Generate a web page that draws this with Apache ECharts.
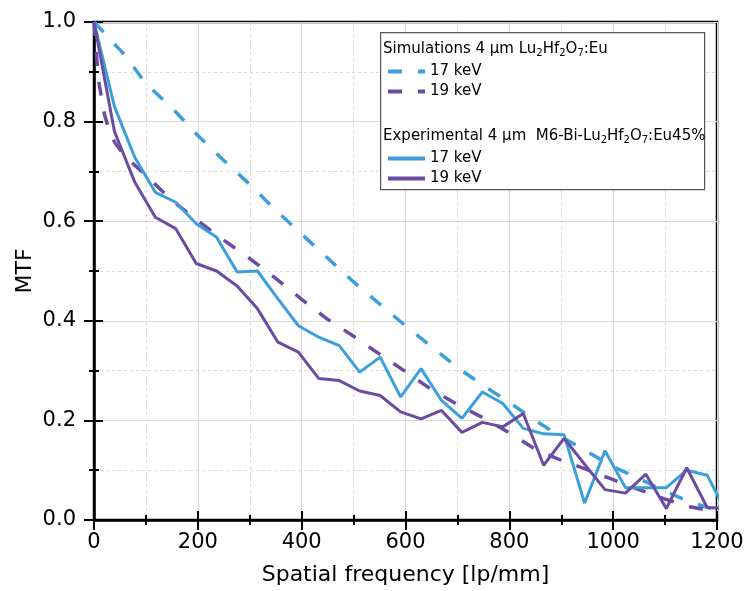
<!DOCTYPE html>
<html>
<head>
<meta charset="utf-8">
<script src="https://cdn.jsdelivr.net/npm/echarts@6/dist/echarts.min.js"></script>
<style>
  html, body { margin: 0; padding: 0; background: #ffffff; }
  #chart { width: 748px; height: 591px; }
</style>
</head>
<body>
<div id="chart"></div>
<script>
// Spatial frequency samples of the measured MTF (lp/mm)
var freqExp = [0, 39.4, 78.7, 118.1, 157.5, 196.9, 236.2, 275.6, 315.0, 354.3, 393.7,
  433.1, 472.4, 511.8, 551.2, 590.6, 629.9, 669.3, 708.7, 748.0, 787.4, 826.8,
  866.1, 905.5, 944.9, 984.3, 1023.6, 1063.0, 1102.4, 1141.7, 1181.1, 1220.5];

// Measured MTF, 4 µm M6-Bi-Lu2Hf2O7:Eu45%
var exp17 = [1.0, 0.83, 0.728, 0.658, 0.638, 0.595, 0.568, 0.498, 0.50, 0.444, 0.39,
  0.367, 0.35, 0.297, 0.327, 0.247, 0.304, 0.24, 0.204, 0.257, 0.234, 0.184,
  0.173, 0.171, 0.034, 0.139, 0.065, 0.065, 0.065, 0.10, 0.09, 0.01];
var exp19 = [1.0, 0.78, 0.678, 0.608, 0.585, 0.515, 0.50, 0.47, 0.424, 0.357, 0.337,
  0.284, 0.28, 0.259, 0.25, 0.217, 0.203, 0.22, 0.176, 0.196, 0.187, 0.214,
  0.11, 0.164, 0.112, 0.061, 0.054, 0.092, 0.023, 0.105, 0.025, 0.023];

// Simulated MTF, 4 µm Lu2Hf2O7:Eu
var freqSim = [0, 5, 10, 20, 30, 40, 60, 100, 150, 200, 250, 300, 350, 400, 450, 500,
  550, 600, 650, 700, 750, 800, 850, 900, 950, 1000, 1050, 1100, 1150, 1200];
var sim17 = [1.0, 0.994, 0.989, 0.978, 0.966, 0.955, 0.933, 0.876, 0.828, 0.772, 0.722,
  0.674, 0.622, 0.574, 0.526, 0.478, 0.434, 0.39, 0.348, 0.306, 0.27, 0.236,
  0.2, 0.167, 0.137, 0.107, 0.083, 0.058, 0.035, 0.02];
var sim19 = [1.0, 0.93, 0.875, 0.815, 0.78, 0.758, 0.73, 0.692, 0.642, 0.601, 0.562,
  0.525, 0.485, 0.443, 0.403, 0.369, 0.333, 0.298, 0.262, 0.232, 0.205, 0.175,
  0.142, 0.12, 0.101, 0.081, 0.061, 0.042, 0.026, 0.016];

var xTicks = [0, 200, 400, 600, 800, 1000, 1200];
var yTicks = [0.0, 0.2, 0.4, 0.6, 0.8, 1.0];

var BLUE = '#3c9fdc';
var PURPLE = '#6b4ca2';
var FONT = 'DejaVu Sans';

function pairs(xs, ys) {
  return xs.map(function (x, i) { return [x, ys[i]]; });
}

var legendLabels = {
  sim17: '17 keV', sim19: '19 keV', exp17: '17 keV', exp19: '19 keV'
};

var chart = echarts.init(document.getElementById('chart'), null, { renderer: 'canvas' });

// Each axis is drawn twice: once with outward ticks and labels, once with inward ticks,
// so the ticks cross the axis line.
function baseX(inside) {
  return {
    type: 'value', gridIndex: 0, position: 'bottom',
    min: xTicks[0], max: xTicks[xTicks.length - 1], interval: xTicks[1] - xTicks[0],
    axisLine: { show: !inside, onZero: false, lineStyle: { color: '#000', width: 2.5 } },
    axisTick: { show: true, inside: inside, length: inside ? 9 : 10, lineStyle: { color: '#000', width: 2 } },
    minorTick: { show: true, splitNumber: 2, length: 5, lineStyle: { color: '#000', width: 2 } },
    axisLabel: {
      show: !inside, margin: 12, color: '#000', fontFamily: FONT, fontSize: 21,
      formatter: function (v) { return String(v); }
    },
    splitLine: { show: !inside, lineStyle: { color: '#d9d9d9', width: 1 } },
    minorSplitLine: { show: !inside, lineStyle: { color: '#d9d9d9', width: 1, type: [3, 3] } }
  };
}
function baseY(inside) {
  return {
    type: 'value', gridIndex: 0, position: 'left',
    min: yTicks[0], max: yTicks[yTicks.length - 1], interval: yTicks[1] - yTicks[0],
    axisLine: { show: !inside, onZero: false, lineStyle: { color: '#000', width: 2.5 } },
    axisTick: { show: true, inside: inside, length: inside ? 9 : 10, lineStyle: { color: '#000', width: 2 } },
    minorTick: { show: true, splitNumber: 2, length: 5, lineStyle: { color: '#000', width: 2 } },
    axisLabel: {
      show: !inside, margin: 18, color: '#000', fontFamily: FONT, fontSize: 21,
      padding: [5, 0, 0, 0],
      formatter: function (v) { return v.toFixed(1); }
    },
    splitLine: { show: !inside, lineStyle: { color: '#d9d9d9', width: 1 } },
    minorSplitLine: { show: !inside, lineStyle: { color: '#d9d9d9', width: 1, type: [3, 3] } }
  };
}

var xOuter = baseX(false);
xOuter.name = 'Spatial frequency [lp/mm]';
xOuter.nameLocation = 'middle';
xOuter.nameGap = 44;
xOuter.nameMoveOverlap = false;
xOuter.nameTextStyle = { color: '#000', fontFamily: FONT, fontSize: 22 };

var yOuter = baseY(false);
yOuter.name = 'MTF';
yOuter.nameLocation = 'middle';
yOuter.nameGap = 58;
yOuter.nameMoveOverlap = false;
yOuter.nameTextStyle = { color: '#000', fontFamily: FONT, fontSize: 22 };

var dash = [14, 16];

var rich = {
  n: { fontFamily: FONT, fontSize: 15, color: '#000' },
  s: { fontFamily: FONT, fontSize: 10, color: '#000', padding: [8, 0, 0, 0] }
};

var legendCommon = {
  orient: 'vertical', left: 381, itemWidth: 37, itemHeight: 14, itemGap: 5, z: 110,
  itemStyle: { opacity: 0 },
  lineStyle: { width: 4 },
  formatter: function (n) { return legendLabels[n]; },
  textStyle: { color: '#000', fontFamily: FONT, fontSize: 15 }
};

chart.setOption({
  animation: false,
  backgroundColor: '#ffffff',
  grid: {
    left: 94, right: 31, top: 22, bottom: 69,
    show: true, borderColor: '#000', borderWidth: 2.5, backgroundColor: 'transparent'
  },
  xAxis: [xOuter, baseX(true)],
  yAxis: [yOuter, baseY(true)],
  legend: [
    Object.assign({ data: ['sim17', 'sim19'], top: 59 }, legendCommon),
    Object.assign({ data: ['exp17', 'exp19'], top: 146 }, legendCommon)
  ],
  graphic: [
    {
      type: 'rect', left: 380, top: 32, z: 100,
      shape: { width: 324, height: 157 },
      style: { fill: '#ffffff', stroke: '#555555', lineWidth: 1.2 }
    },
    {
      type: 'text', left: 383, top: 42, z: 110,
      style: {
        text: '{n|Simulations 4 μm Lu}{s|2}{n|Hf}{s|2}{n|O}{s|7}{n|:Eu}',
        rich: rich
      }
    },
    {
      type: 'text', left: 383, top: 129, z: 110,
      style: {
        text: '{n|Experimental 4 μm  M6-Bi-Lu}{s|2}{n|Hf}{s|2}{n|O}{s|7}{n|:Eu45%}',
        rich: rich
      }
    }
  ],
  series: [
    {
      name: 'sim17', type: 'line', xAxisIndex: 0, yAxisIndex: 0,
      data: pairs(freqSim, sim17), showSymbol: false, symbol: 'none',
      lineStyle: { color: BLUE, width: 3.5, type: dash, cap: 'butt' },
      itemStyle: { color: BLUE }, z: 3
    },
    {
      name: 'sim19', type: 'line', xAxisIndex: 0, yAxisIndex: 0,
      data: pairs(freqSim, sim19), showSymbol: false, symbol: 'none',
      lineStyle: { color: PURPLE, width: 3.5, type: dash, cap: 'butt' },
      itemStyle: { color: PURPLE }, z: 3
    },
    {
      name: 'exp17', type: 'line', xAxisIndex: 0, yAxisIndex: 0,
      data: pairs(freqExp, exp17), showSymbol: false, symbol: 'none', clip: true,
      lineStyle: { color: BLUE, width: 3 },
      itemStyle: { color: BLUE }, z: 4
    },
    {
      name: 'exp19', type: 'line', xAxisIndex: 0, yAxisIndex: 0,
      data: pairs(freqExp, exp19), showSymbol: false, symbol: 'none', clip: true,
      lineStyle: { color: PURPLE, width: 3 },
      itemStyle: { color: PURPLE }, z: 4
    }
  ]
});
</script>
</body>
</html>
